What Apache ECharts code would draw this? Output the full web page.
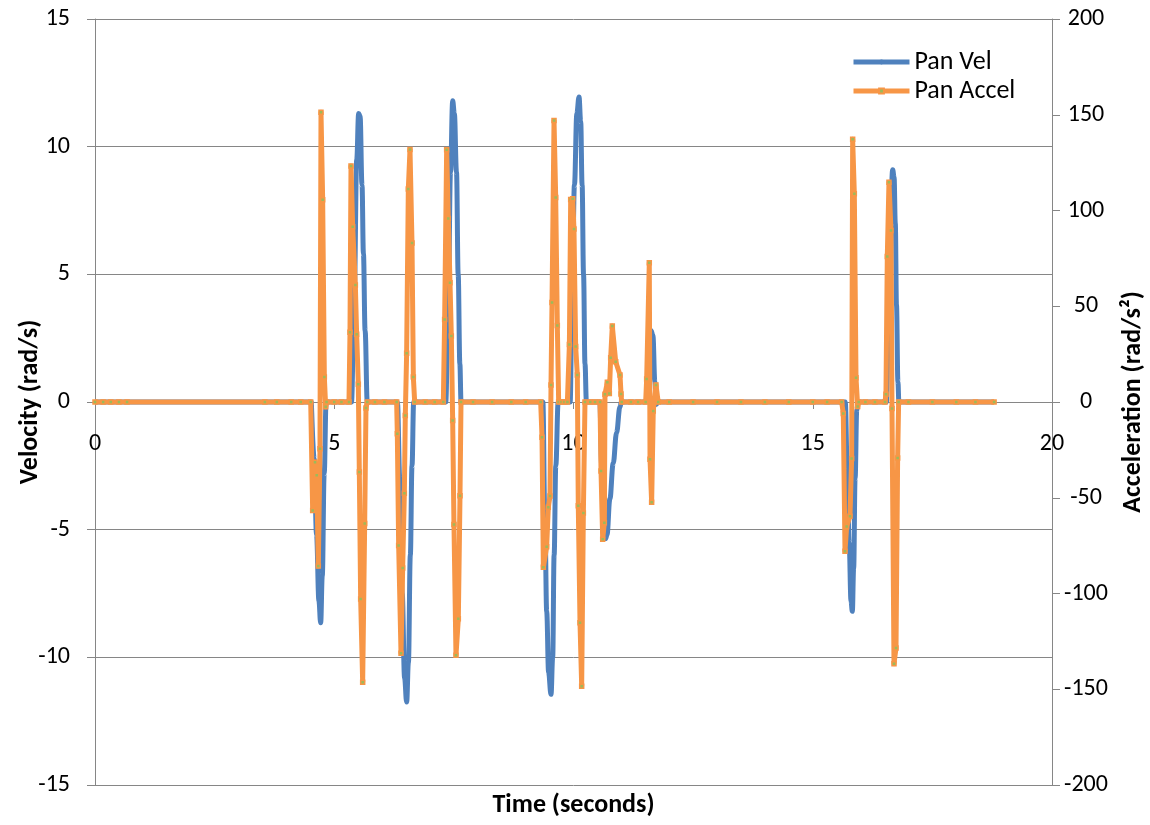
<!DOCTYPE html>
<html>
<head>
<meta charset="utf-8">
<script src="https://cdn.jsdelivr.net/npm/echarts@6/dist/echarts.min.js"></script>
<style>
html,body{margin:0;padding:0;background:#fff;}
#chart{width:1150px;height:825px;}
</style>
</head>
<body>
<div id="chart"></div>
<script>
// ---- Data ----
var xTicks = [0, 5, 10, 15, 20];
var velTicks = [-15, -10, -5, 0, 5, 10, 15];
var accTicks = [-200, -150, -100, -50, 0, 50, 100, 150, 200];

// Pan Vel (rad/s): time (s) and value
var velT = [0, 0.67, 3.55, 4.52,
  4.53, 4.58, 4.63, 4.68, 4.716, 4.75, 4.79, 4.83,
  5.36, 5.42, 5.47, 5.51, 5.54, 5.58, 5.61, 5.645, 5.69,
  6.32, 6.37, 6.42, 6.47, 6.513, 6.55, 6.59, 6.625, 6.66,
  7.33, 7.38, 7.43, 7.475, 7.51, 7.555, 7.59, 7.625, 7.65,
  9.36, 9.40, 9.44, 9.48, 9.53, 9.565, 9.595, 9.63, 9.68,
  9.93, 9.97, 10.02, 10.07, 10.115, 10.15, 10.18, 10.21, 10.24, 10.27,
  10.55, 10.59, 10.63, 10.67, 10.70, 10.76, 10.83, 10.90, 10.97, 11.0,
  11.53, 11.58, 11.62, 11.66, 11.70, 11.73, 11.76,
  15.68, 15.72, 15.76, 15.80, 15.827, 15.855, 15.885, 15.92, 15.95,
  16.54, 16.58, 16.62, 16.67, 16.70, 16.725, 16.75, 16.78, 16.80,
  18.79];
var velV = [0, 0, 0, 0,
  0, -2.2, -5.2, -7.8, -8.65, -6.8, -2.8, 0,
  0, 4.5, 9.5, 11.3, 11.2, 8.5, 5.8, 2.8, 0,
  0, -3, -7.5, -10.8, -11.75, -10.2, -6, -2.5, 0,
  0, 3.5, 9, 11.8, 11.3, 9, 5, 1.5, 0,
  0, -4.3, -8.2, -10.6, -11.45, -10, -6, -2.5, 0,
  0, 4, 8.5, 11.3, 11.95, 11, 8.5, 5, 1.5, 0,
  0, -2.5, -4.8, -5.35, -5.2, -3.8, -2.4, -1.2, -0.2, 0,
  0, 1.5, 2.8, 2.6, 0.8, -0.1, 0,
  0, -2.5, -5.5, -7.8, -8.2, -6.5, -3, -0.3, 0,
  0, 3, 7, 9.1, 8.8, 7, 3.8, 0.8, 0,
  0];

// Pan Accel (rad/s^2): time (s) and value
var accT = [0, 0.17, 0.33, 0.5, 0.67, 3.55, 3.8, 4.1, 4.3, 4.508,
  4.549, 4.598, 4.633, 4.667, 4.702, 4.723, 4.758, 4.793, 4.821, 4.84,
  5.0, 5.15, 5.308,
  5.329, 5.350, 5.385, 5.441, 5.468, 5.503, 5.524, 5.552, 5.594, 5.636, 5.663, 5.69,
  5.85, 6.05, 6.304,
  6.318, 6.346, 6.395, 6.430, 6.465, 6.485, 6.513, 6.548, 6.583, 6.625, 6.653, 6.681,
  6.9, 7.1, 7.28,
  7.307, 7.349, 7.384, 7.419, 7.447, 7.475, 7.502, 7.544, 7.593, 7.628, 7.649,
  7.9, 8.3, 8.7, 9.0, 9.314,
  9.342, 9.370, 9.439, 9.474, 9.509, 9.530, 9.551, 9.593, 9.628, 9.662, 9.690,
  9.75, 9.81, 9.872,
  9.914, 9.941, 9.983, 10.010, 10.045, 10.08, 10.10, 10.136, 10.171, 10.206, 10.240,
  10.35, 10.45, 10.554,
  10.575, 10.61, 10.645, 10.658, 10.707, 10.749, 10.777, 10.811, 10.882, 10.972, 10.993, 11.007,
  11.2, 11.35, 11.508,
  11.529, 11.584, 11.599, 11.633, 11.667, 11.724, 11.77,
  12.0, 12.5, 13.0, 13.5, 14.0, 14.5, 15.0, 15.3, 15.604,
  15.638, 15.674, 15.709, 15.778, 15.813, 15.834, 15.869, 15.904, 15.939, 15.96,
  16.1, 16.3, 16.51,
  16.53, 16.558, 16.593, 16.635, 16.656, 16.698, 16.740, 16.774, 16.795,
  17.0, 17.5, 18.0, 18.4, 18.79];
var accA = [0, 0, 0, 0, 0, 0, 0, 0, 0, 0,
  -56.7, -31.5, -38.3, -85.7, -24.4, 151.3, 105.6, 13.0, -2.5, 0,
  0, 0, 0,
  36.4, 123.2, 91.5, 61.1, 35.4, 9.3, -36.6, -102.9, -146.3, -63.5, -3.1, 0,
  0, 0, 0,
  -16.6, -74.9, -131.2, -86.7, -47.6, -7.0, 25.5, 111.2, 131.9, 83.0, 13.0, 0,
  0, 0, 0,
  43.1, 131.7, 95.8, 62.3, 34.4, -9.7, -64.0, -132.3, -113.2, -48.9, 0,
  0, 0, 0, 0, 0,
  -18.4, -86.3, -75.6, -54.9, -49.1, 8.9, 52.0, 147.0, 106.8, 40.0, 0,
  0, 0, 0,
  30.0, 105.8, 106.2, 90.3, 29.0, 14.1, -54.2, -115.3, -148.4, -58.0, 0,
  0, 0, 0,
  -36.0, -71.7, -63.0, 4.0, 10.3, 4.5, 23.1, 39.7, 21.0, 14.1, 4.2, 0,
  0, 0, 0,
  12.0, 72.7, -29.9, -52.4, -4.7, 8.9, 0,
  0, 0, 0, 0, 0, 0, 0, 0, 0,
  -6.0, -77.9, -65.0, -59.7, -29.5, 137.2, 108.8, 12.7, -2.4, 0,
  0, 0, 0,
  4.1, 76.0, 114.8, 89.6, -3.4, -136.7, -128.4, -29.3, 0,
  0, 0, 0, 0, 0];

function zip(a, b) { var r = []; for (var i = 0; i < a.length; i++) r.push([a[i], b[i]]); return r; }

var FONT = 'Carlito, Lato, "Liberation Sans", sans-serif';
var GRAY = '#868686';
var GRID_TOP = 19, GRID_BOTTOM = 40, H = 825;
var plotH = H - GRID_TOP - GRID_BOTTOM;
var zeroOffset = -plotH / 2; // axis sits at velocity 0 (middle of the plot)

var chart = echarts.init(document.getElementById('chart'), null, {renderer: 'canvas'});
chart.setOption({
  animation: false,
  backgroundColor: '#ffffff',
  textStyle: {fontFamily: FONT},
  grid: {left: 95, right: 98, top: GRID_TOP, bottom: GRID_BOTTOM, containLabel: false, outerBoundsMode: 'none'},
  legend: {
    orient: 'vertical', left: 846, top: 44,
    itemWidth: 56, itemHeight: 6, itemGap: 3,
    lineStyle: {width: 5},
    textStyle: {fontFamily: FONT, fontSize: 26, color: '#000'},
    data: ['Pan Vel', 'Pan Accel']
  },
  xAxis: {
    type: 'value', min: xTicks[0], max: xTicks[xTicks.length - 1], interval: 5,
    position: 'bottom', offset: zeroOffset,
    name: 'Time (seconds)', nameLocation: 'middle', nameGap: 390, nameMoveOverlap: false,
    nameTextStyle: {fontFamily: FONT, fontSize: 26, fontWeight: 'bold', color: '#000'},
    axisLine: {onZero: false, lineStyle: {color: GRAY, width: 1}},
    axisTick: {show: true, inside: false, length: 7, lineStyle: {color: GRAY}},
    axisLabel: {margin: 30, fontFamily: FONT, fontSize: 24, color: '#000'},
    splitLine: {show: false}
  },
  yAxis: [{
    type: 'value', min: velTicks[0], max: velTicks[velTicks.length - 1], interval: 5,
    name: 'Velocity (rad/s)', nameLocation: 'middle', nameGap: 52, nameRotate: 90, nameMoveOverlap: false,
    nameTextStyle: {fontFamily: FONT, fontSize: 26, fontWeight: 'bold', color: '#000'},
    axisLine: {show: true, onZero: false, lineStyle: {color: GRAY, width: 1}},
    axisTick: {show: true, length: 8, lineStyle: {color: GRAY}},
    axisLabel: {margin: 25, fontFamily: FONT, fontSize: 24, color: '#000'},
    splitLine: {show: true, lineStyle: {color: GRAY, width: 1}}
  }, {
    type: 'value', min: accTicks[0], max: accTicks[accTicks.length - 1], interval: 50,
    position: 'right',
    name: 'Acceleration (rad/s²)', nameLocation: 'middle', nameGap: 68, nameRotate: 90, nameMoveOverlap: false,
    nameTextStyle: {fontFamily: FONT, fontSize: 26, fontWeight: 'bold', color: '#000'},
    axisLine: {show: true, onZero: false, lineStyle: {color: GRAY, width: 1}},
    axisTick: {show: true, length: 8, lineStyle: {color: GRAY}},
    axisLabel: {margin: 34, fontFamily: FONT, fontSize: 24, color: '#000', align: 'center'},
    splitLine: {show: false}
  }],
  series: [{
    name: 'Pan Vel', type: 'line', yAxisIndex: 0,
    data: zip(velT, velV),
    smooth: 0.4, smoothMonotone: 'x',
    showSymbol: false, symbol: 'circle', symbolSize: 3,
    lineStyle: {color: '#4F81BD', width: 5},
    itemStyle: {color: '#4F81BD'},
    z: 2
  }, {
    name: 'Pan Accel', type: 'line', yAxisIndex: 1,
    data: zip(accT, accA),
    symbol: 'rect', symbolSize: 4, showAllSymbol: true,
    lineStyle: {color: '#F79646', width: 5, join: 'round'},
    itemStyle: {color: '#9BBB59', borderColor: '#F79646', borderWidth: 1.5},
    z: 3
  }]
});
</script>
</body>
</html>
